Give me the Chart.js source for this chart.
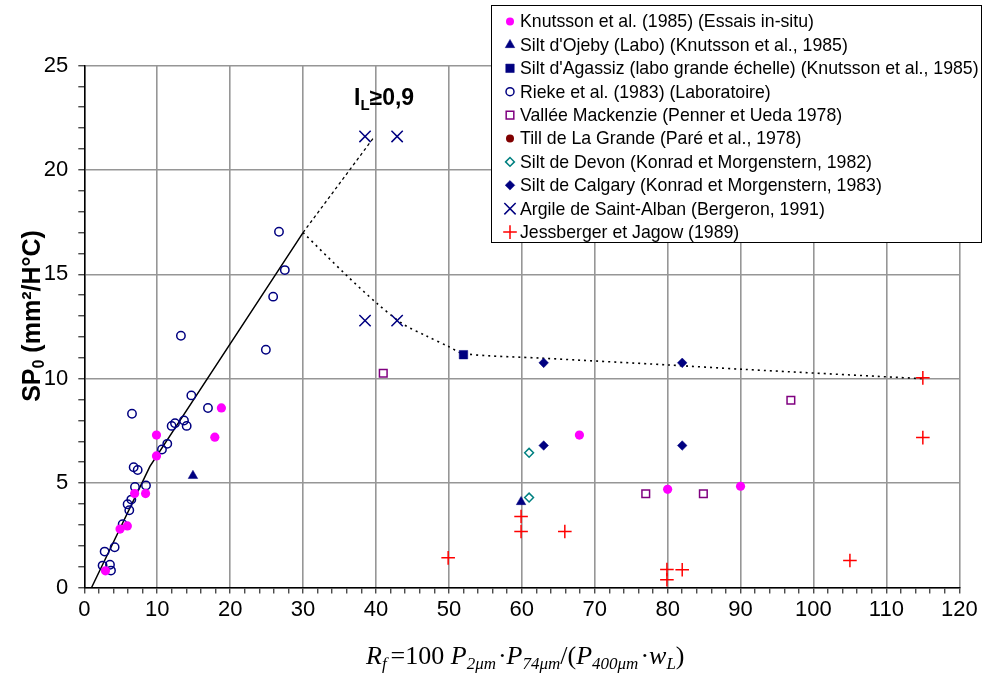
<!DOCTYPE html>
<html>
<head>
<meta charset="utf-8">
<script src="https://cdn.jsdelivr.net/npm/chart.js@4.4.1/dist/chart.umd.min.js"></script>
<style>
  html, body { margin: 0; padding: 0; background: #fff; }
  #wrap { width: 984px; height: 677px; }
</style>
</head>
<body>
<div id="wrap"><canvas id="chart" width="984" height="677"></canvas></div>
<script>
// Rf (x) / SP0 (y) pairs per source
const knutssonX = [2.9, 4.9, 5.9, 6.9, 8.4, 9.9, 9.9, 17.9, 18.8, 67.9, 80, 90];
const knutssonY = [0.8, 2.8, 2.95, 4.5, 4.5, 6.3, 7.3, 7.2, 8.6, 7.3, 4.7, 4.85];

const ojebyX = [14.9, 59.9];
const ojebyY = [5.35, 4.1];

const agassizX = [52];
const agassizY = [11.15];

const riekeX = [13.25, 6.54, 14.68, 16.96, 13.67, 14.04, 12.44, 11.98, 11.38, 10.65, 6.77, 7.32, 6.95,
                8.46, 6.45, 5.94, 6.17, 5.26, 4.16, 2.79, 2.51, 3.52, 3.66, 26.7, 27.5, 25.9, 24.9];
const riekeY = [12.06, 8.32, 9.2, 8.6, 8.0, 7.74, 7.87, 7.74, 6.88, 6.61, 5.76, 5.63, 4.81,
                4.89, 4.21, 3.99, 3.7, 3.03, 1.93, 1.72, 1.05, 1.09, 0.81, 17.04, 15.2, 13.93, 11.39];

const mackenzieX = [41, 77, 84.9, 96.9];
const mackenzieY = [10.26, 4.49, 4.49, 8.97];

const laGrandeX = [];
const laGrandeY = [];

const devonX = [61, 61];
const devonY = [6.45, 4.31];

const calgaryX = [63, 63, 82, 82];
const calgaryY = [10.76, 6.8, 10.76, 6.8];

const saintAlbanX = [38.5, 42.9, 38.5, 42.9];
const saintAlbanY = [21.6, 21.6, 12.78, 12.78];

const jessbergerX = [49.9, 59.9, 59.9, 65.9, 79.9, 79.9, 82, 115, 115, 105];
const jessbergerY = [1.42, 3.4, 2.68, 2.68, 0.86, 0.37, 0.85, 10.04, 7.18, 1.29];

// trend lines
const trendX = [1, 9, 30];
const trendY = [0, 5.8, 17];
const upperX = [30, 39.8];
const upperY = [17, 21.6];
const lowerX = [30, 35.9, 40.1, 43.7, 46.9, 49.9, 52, 63, 80, 90.3, 115];
const lowerY = [17, 14.97, 13.62, 12.62, 12.05, 11.55, 11.2, 10.98, 10.66, 10.45, 10.0];

const xTicks = [0, 10, 20, 30, 40, 50, 60, 70, 80, 90, 100, 110, 120];
const yTicks = [0, 5, 10, 15, 20, 25];

const seriesNames = [
  'Knutsson et al. (1985) (Essais in-situ)',
  "Silt d'Ojeby (Labo) (Knutsson et al., 1985)",
  "Silt d'Agassiz (labo grande échelle) (Knutsson et al., 1985)",
  'Rieke et al. (1983) (Laboratoire)',
  'Vallée Mackenzie (Penner et Ueda 1978)',
  'Till de La Grande (Paré et al., 1978)',
  'Silt de Devon (Konrad et Morgenstern, 1982)',
  'Silt de Calgary (Konrad et Morgenstern, 1983)',
  'Argile de Saint-Alban (Bergeron, 1991)',
  'Jessberger et Jagow (1989)'
];

const pts = (xs, ys) => xs.map((x, i) => ({ x: x, y: ys[i] }));

const SANS = '"Liberation Sans", Arial, sans-serif';
const SERIF = '"Liberation Serif", "Times New Roman", serif';

function markers(label, xs, ys, style, radius, fill, stroke, bw) {
  return {
    label: label,
    data: pts(xs, ys),
    showLine: false,
    pointStyle: style,
    pointRadius: radius,
    pointHoverRadius: radius,
    pointBackgroundColor: fill,
    pointBorderColor: stroke,
    pointBorderWidth: bw,
    order: 1
  };
}

function line(xs, ys, dash, width, tension) {
  return {
    label: '',
    data: pts(xs, ys),
    showLine: true,
    borderColor: '#000',
    borderWidth: width,
    borderDash: dash,
    pointRadius: 0,
    tension: tension,
    fill: false,
    isGuide: true,
    order: 2
  };
}

const datasets = [
  markers(seriesNames[0], knutssonX, knutssonY, 'circle', 4.6, '#ff00ff', '#ff00ff', 0),
  markers(seriesNames[1], ojebyX, ojebyY, 'triangle', 5.5, '#000080', '#000080', 0.5),
  markers(seriesNames[2], agassizX, agassizY, 'rect', 6, '#000080', '#000080', 0.5),
  markers(seriesNames[3], riekeX, riekeY, 'circle', 4.2, 'rgba(0,0,0,0)', '#000080', 1.5),
  markers(seriesNames[4], mackenzieX, mackenzieY, 'rect', 5.4, 'rgba(0,0,0,0)', '#800080', 1.5),
  markers(seriesNames[5], laGrandeX, laGrandeY, 'circle', 4.5, '#800000', '#800000', 0),
  markers(seriesNames[6], devonX, devonY, 'rectRot', 4.4, 'rgba(0,0,0,0)', '#008080', 1.5),
  markers(seriesNames[7], calgaryX, calgaryY, 'rectRot', 4.8, '#000080', '#000080', 0.5),
  markers(seriesNames[8], saintAlbanX, saintAlbanY, 'crossRot', 8, '#000080', '#000080', 1.5),
  markers(seriesNames[9], jessbergerX, jessbergerY, 'cross', 6.8, '#ff0000', '#ff0000', 1.5),
  line(trendX, trendY, [], 1.5, 0),
  line(upperX, upperY, [3, 3], 1.3, 0),
  line(lowerX, lowerY, [2, 4], 1.6, 0.3)
];

// legend box drawn on top of the plot
const boxLegend = {
  id: 'boxLegend',
  afterDraw(chart) {
    const ctx = chart.ctx;
    const left = 491.5, top = 5.5, w = 490, h = 237;
    ctx.save();
    ctx.fillStyle = '#fff';
    ctx.fillRect(left, top, w, h);
    ctx.strokeStyle = '#000';
    ctx.lineWidth = 1;
    ctx.strokeRect(left, top, w, h);
    ctx.font = '17.7px ' + SANS;
    ctx.textBaseline = 'middle';
    ctx.textAlign = 'left';
    chart.data.datasets.forEach((ds, i) => {
      if (ds.isGuide) return;
      const y = 21.5 + i * 23.4;
      ctx.fillStyle = ds.pointBackgroundColor;
      ctx.strokeStyle = ds.pointBorderColor;
      ctx.lineWidth = ds.pointBorderWidth;
      let r = ds.pointRadius;
      if (ds.pointStyle === 'circle') r = Math.min(r, 4);
      Chart.helpers.drawPoint(ctx, {
        pointStyle: ds.pointStyle,
        radius: r,
        rotation: 0,
        borderWidth: ds.pointBorderWidth
      }, 510, y);
      ctx.fillStyle = '#000';
      ctx.fillText(ds.label, 520, y + 1);
    });
    ctx.restore();
  }
};

// draws runs of text with font / vertical offset changes
function drawRuns(ctx, runs, x, y) {
  runs.forEach(r => {
    ctx.font = r.font;
    ctx.fillText(r.t, x, y + (r.dy || 0));
    x += ctx.measureText(r.t).width + (r.gap || 0);
  });
  return x;
}

function runsWidth(ctx, runs) {
  let w = 0;
  runs.forEach(r => { ctx.font = r.font; w += ctx.measureText(r.t).width + (r.gap || 0); });
  return w;
}

const titles = {
  id: 'titles',
  afterDraw(chart) {
    const ctx = chart.ctx;
    ctx.save();
    ctx.fillStyle = '#000';
    ctx.textBaseline = 'alphabetic';
    ctx.textAlign = 'left';

    // y axis title
    const bold = 'bold 25px ' + SANS;
    const boldSub = 'bold 16px ' + SANS;
    const yRuns = [
      { t: 'SP', font: bold },
      { t: '0', font: boldSub, dy: 4 },
      { t: ' (mm²/H°C)', font: bold }
    ];
    const yw = runsWidth(ctx, yRuns);
    ctx.translate(40, 316);
    ctx.rotate(-Math.PI / 2);
    drawRuns(ctx, yRuns, -yw / 2, 0);
    ctx.setTransform(1, 0, 0, 1, 0, 0);

    // I_L >= 0,9 label
    drawRuns(ctx, [
      { t: 'I', font: 'bold 23px ' + SANS },
      { t: 'L', font: 'bold 15px ' + SANS, dy: 5 },
      { t: '≥0,9', font: 'bold 23px ' + SANS }
    ], 354, 105);

    // x axis formula
    const it = 'italic 26px ' + SERIF;
    const rm = '26px ' + SERIF;
    const sub = 'italic 17px ' + SERIF;
    const xRuns = [
      { t: 'R', font: it },
      { t: 'f', font: sub, dy: 5, gap: 4 },
      { t: '=100 ', font: rm },
      { t: 'P', font: it },
      { t: '2μm', font: sub, dy: 5, gap: 2 },
      { t: '·', font: rm },
      { t: 'P', font: it },
      { t: '74μm', font: sub, dy: 5 },
      { t: '/', font: rm },
      { t: '(', font: rm },
      { t: 'P', font: it },
      { t: '400μm', font: sub, dy: 5, gap: 2 },
      { t: '·', font: rm },
      { t: 'w', font: it },
      { t: 'L', font: sub, dy: 5 },
      { t: ')', font: rm }
    ];
    drawRuns(ctx, xRuns, 366, 664);
    ctx.restore();
  }
};

new Chart(document.getElementById('chart'), {
  type: 'scatter',
  data: { datasets: datasets },
  options: {
    responsive: false,
    devicePixelRatio: 1,
    animation: false,
    events: [],
    layout: { padding: { top: 65.5, right: 24.7, left: 0, bottom: 0 } },
    plugins: {
      legend: { display: false },
      tooltip: { enabled: false }
    },
    scales: {
      x: {
        type: 'linear',
        min: 0,
        max: 120,
        afterFit(scale) { scale.height = 89.5; },
        ticks: {
          stepSize: 2,
          autoSkip: false,
          maxRotation: 0,
          padding: 3,
          color: '#000',
          font: { family: SANS, size: 22 },
          callback: v => (xTicks.includes(v) ? v : '')
        },
        grid: {
          color: c => (c.tick && xTicks.includes(c.tick.value) ? '#969696' : 'rgba(0,0,0,0)'),
          lineWidth: 1.6,
          tickColor: '#000',
          tickLength: 6,
          tickWidth: 1
        },
        border: { color: '#000', width: 1.5 }
      },
      y: {
        type: 'linear',
        min: 0,
        max: 25,
        afterFit(scale) { scale.width = 84.3; },
        ticks: {
          stepSize: 1,
          autoSkip: false,
          padding: 10,
          color: '#000',
          font: { family: SANS, size: 22 },
          callback: v => (yTicks.includes(v) ? v : '')
        },
        grid: {
          color: c => (c.tick && yTicks.includes(c.tick.value) ? '#969696' : 'rgba(0,0,0,0)'),
          lineWidth: 1.6,
          tickColor: '#000',
          tickLength: 6,
          tickWidth: 1
        },
        border: { color: '#000', width: 1.5 }
      }
    }
  },
  plugins: [boxLegend, titles]
});
</script>
</body>
</html>
